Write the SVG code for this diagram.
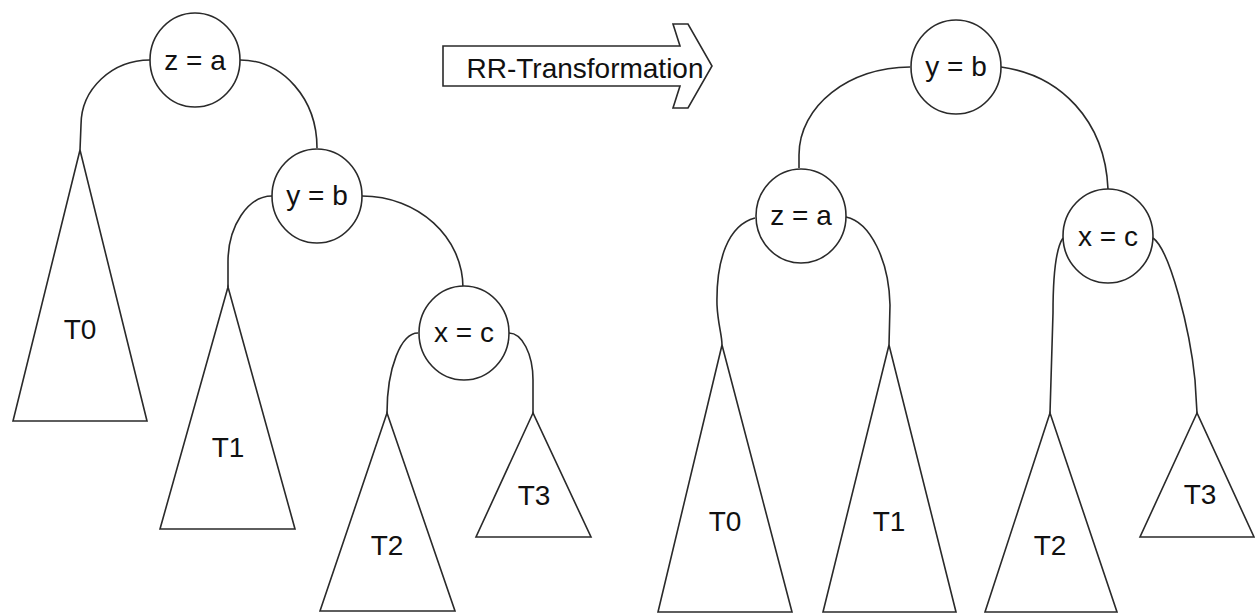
<svg xmlns="http://www.w3.org/2000/svg" width="1255" height="615" viewBox="0 0 1255 615">
  <style>
    .edge { fill: none; stroke: #2a2a2a; stroke-width: 1.6; }
    .node { fill: #fff; stroke: #2a2a2a; stroke-width: 1.6; }
    .tree { fill: #fff; stroke: #2a2a2a; stroke-width: 1.6; stroke-linejoin: miter; }
    .lbl { font-family: "Liberation Sans", Arial, Helvetica, sans-serif; font-size: 28px; fill: #111; text-anchor: middle; }
  </style>
  <rect width="1255" height="615" fill="#fff"/>

  <!-- connectors: parent to child -->
  <g id="connectors">
    <!-- before rotation -->
    <path class="edge" d="M150,60 C112,60 81,89 81,125 L80,150"/>
    <path class="edge" d="M240,60 C283,60 317,99 317,148"/>
    <path class="edge" d="M272,196 C248,196 228,226 228,262 L228,287"/>
    <path class="edge" d="M362,196 C418,196 463,237 463,288"/>
    <path class="edge" d="M418,333 C401,333 387,368 387,413"/>
    <path class="edge" d="M509,333 C522,333 533,354 533,380 L533,413"/>
    <!-- after rotation -->
    <path class="edge" d="M910,67 C849,67 799,106 799,155 L799,168"/>
    <path class="edge" d="M1001,67 C1060,75 1105,120 1108,189"/>
    <path class="edge" d="M755,218 C728,225 716,260 717,305 C718,325 722,335 722,345"/>
    <path class="edge" d="M846,217 C870,222 889,260 890,305 L889,345"/>
    <path class="edge" d="M1063,238 C1056,248 1053,270 1053,313 L1050,413"/>
    <path class="edge" d="M1153,238 C1170,250 1190,330 1195,380 L1197,413"/>
  </g>

  <!-- transformation arrow -->
  <g id="rr-arrow">
    <polygon class="tree" points="443,46 680,46 673,24 688,24 712,66 688,108 673,108 680,86 443,86"/>
    <text class="lbl" x="585" y="78">RR-Transformation</text>
  </g>

  <!-- left tree -->
  <g id="L-z">
    <ellipse class="node" cx="195" cy="60" rx="45" ry="47"/>
    <text class="lbl" x="195" y="70">z = a</text>
  </g>
  <g id="L-y">
    <ellipse class="node" cx="317" cy="196" rx="45" ry="47"/>
    <text class="lbl" x="317" y="205">y = b</text>
  </g>
  <g id="L-x">
    <ellipse class="node" cx="464" cy="333" rx="45" ry="47"/>
    <text class="lbl" x="464" y="342">x = c</text>
  </g>
  <g id="L-T0">
    <polygon class="tree" points="80,150 13,421 147,421"/>
    <text class="lbl" x="80" y="339">T0</text>
  </g>
  <g id="L-T1">
    <polygon class="tree" points="228,287 160,529 295,529"/>
    <text class="lbl" x="228" y="457">T1</text>
  </g>
  <g id="L-T2">
    <polygon class="tree" points="387,413 320,611 455,611"/>
    <text class="lbl" x="387" y="555">T2</text>
  </g>
  <g id="L-T3">
    <polygon class="tree" points="533,413 476,537 591,537"/>
    <text class="lbl" x="534" y="505">T3</text>
  </g>

  <!-- right tree -->
  <g id="R-y">
    <ellipse class="node" cx="956" cy="67" rx="45" ry="47"/>
    <text class="lbl" x="956" y="76">y = b</text>
  </g>
  <g id="R-z">
    <ellipse class="node" cx="801" cy="216" rx="45" ry="47"/>
    <text class="lbl" x="801" y="225">z = a</text>
  </g>
  <g id="R-x">
    <ellipse class="node" cx="1108" cy="236" rx="45" ry="47"/>
    <text class="lbl" x="1108" y="246">x = c</text>
  </g>
  <g id="R-T0">
    <polygon class="tree" points="722,345 658,612 792,612"/>
    <text class="lbl" x="725" y="531">T0</text>
  </g>
  <g id="R-T1">
    <polygon class="tree" points="889,345 823,612 956,612"/>
    <text class="lbl" x="889" y="531">T1</text>
  </g>
  <g id="R-T2">
    <polygon class="tree" points="1050,413 985,612 1117,612"/>
    <text class="lbl" x="1050" y="555">T2</text>
  </g>
  <g id="R-T3">
    <polygon class="tree" points="1197,413 1140,537 1254,537"/>
    <text class="lbl" x="1200" y="504">T3</text>
  </g>
</svg>
